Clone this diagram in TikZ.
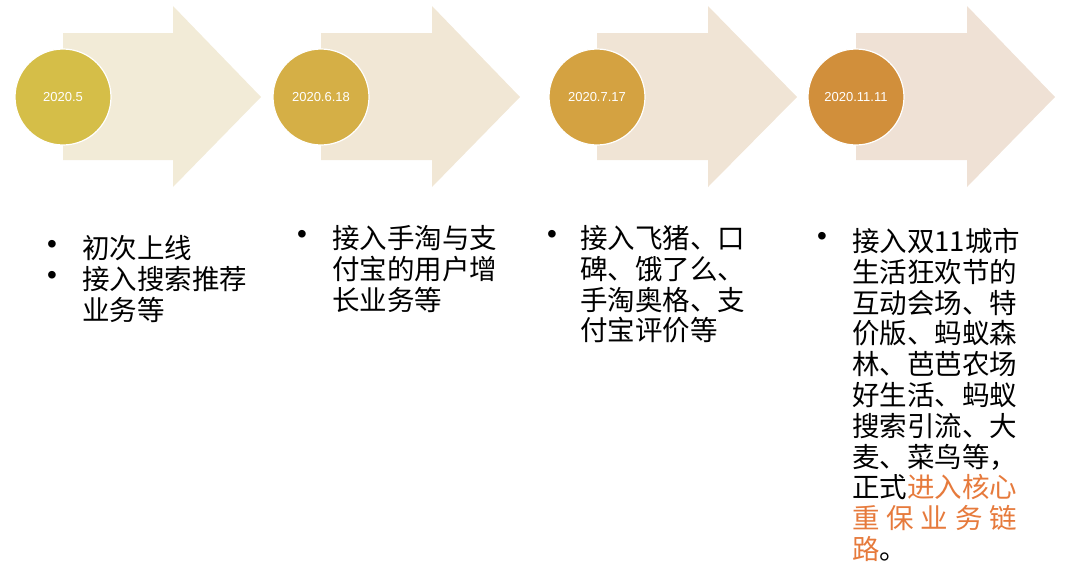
\documentclass[tikz,border=0pt]{standalone}
\usepackage{fontspec}
\setmainfont{Noto Sans CJK SC}
\newfontfamily\datefont{Liberation Sans}
\usetikzlibrary{positioning}
\definecolor{arrow-one}{RGB}{242, 235, 215}
\definecolor{arrow-two}{RGB}{241, 231, 213}
\definecolor{arrow-three}{RGB}{240, 228, 213}
\definecolor{arrow-four}{RGB}{239, 225, 213}
\definecolor{circle-one}{RGB}{213, 190, 72}
\definecolor{circle-two}{RGB}{213, 175, 70}
\definecolor{circle-three}{RGB}{212, 162, 65}
\definecolor{circle-four}{RGB}{209, 143, 59}
\definecolor{custom-orange}{RGB}{230, 122, 60}
\tikzset{
  date/.style={circle, draw=white, line width=1.2pt, minimum size=96pt, inner sep=0pt, text=white, font=\datefont\fontsize{13}{15}\selectfont},
  item/.style={anchor=base west, align=left, inner sep=0pt, font=\fontsize{27.5}{30.8}\selectfont},
  dot/.style={inner sep=0pt, font=\datefont\fontsize{28}{28}\selectfont}
}

\begin{document}
\begin{tikzpicture}[x=1pt, y=-1pt]
                \useasboundingbox (0, 0) rectangle (1080, 568);
                \fill[arrow-one] (63, 33) -- (173, 33) -- (173, 6) -- (261, 97) -- (173, 187) -- (173, 160) -- (63, 160) -- cycle;
                \fill[arrow-two] (321, 33) -- (432, 33) -- (432, 6) -- (520, 97) -- (432, 187) -- (432, 160) -- (321, 160) -- cycle;
                \fill[arrow-three] (597, 33) -- (708, 33) -- (708, 6) -- (797, 97) -- (708, 187) -- (708, 160) -- (597, 160) -- cycle;
                \fill[arrow-four] (856, 33) -- (967, 33) -- (967, 6) -- (1055, 97) -- (967, 187) -- (967, 160) -- (856, 160) -- cycle;
                \node[date, fill=circle-one] (d1) at (63, 97) {2020.5};
                \node[date, fill=circle-two] (d2) at (321, 97) {2020.6.18};
                \node[date, fill=circle-three] (d3) at (597, 97) {2020.7.17};
                \node[date, fill=circle-four] (d4) at (856, 97) {2020.11.11};
                \node[item] (t1) at (82, 320.1) {初次上线\\接入搜索推荐\\业务等};
                \node[dot] (b1a) at (52, 247) {•};
                \node[dot] (b1b) at (52, 278) {•};
                \node[item] (t2) at (332, 310.1) {接入手淘与支\\付宝的用户增\\长业务等};
                \node[dot] (b2) at (302, 237) {•};
                \node[item] (t3) at (580, 340.9) {接入飞猪、口\\碑、饿了么、\\手淘奥格、支\\付宝评价等};
                \node[dot] (b3) at (552, 237) {•};
                \node[item] (t4) at (852, 559.5) {\makebox[6em][s]{接入双\hfill 11\hfill 城市}\\生活狂欢节的\\互动会场、特\\价版、蚂蚁森\\林、芭芭农场\\好生活、蚂蚁\\搜索引流、大\\麦、菜鸟等，\\正式\textcolor{custom-orange}{进入核心}\\\textcolor{custom-orange}{\makebox[6em][s]{重\hfill 保\hfill 业\hfill 务\hfill 链}}\\\textcolor{custom-orange}{路}。};
                \node[dot] (b4) at (822, 239) {•};
            \end{tikzpicture}
\end{document}
